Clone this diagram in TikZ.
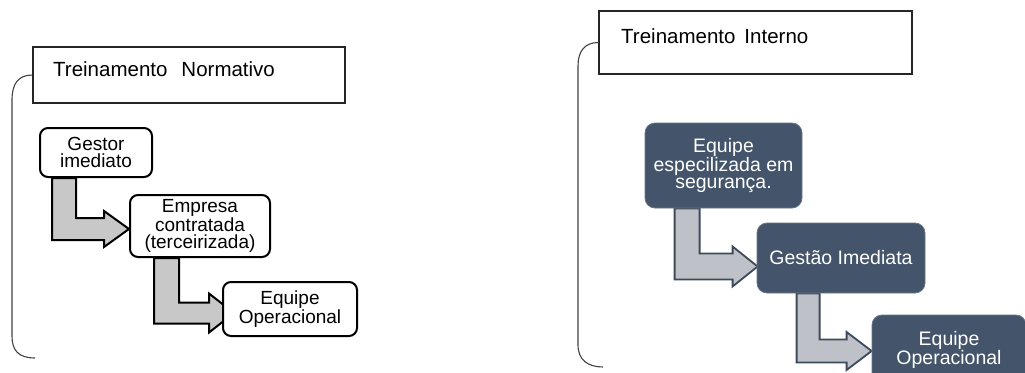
\documentclass[tikz,border=0pt]{standalone}
\usepackage{fontspec}
\setmainfont{Liberation Sans}
\usetikzlibrary{calc}
\pgfdeclarelayer{bg}
\pgfsetlayers{bg,main}
\definecolor{slate}{HTML}{44546A}
\definecolor{slateedge}{HTML}{3C4A5C}
\definecolor{arrowgrayR}{HTML}{BEC2C8}
\definecolor{arrowgrayL}{HTML}{C8C8C8}
\definecolor{bracketcol}{HTML}{404040}
\tikzset{
  hdrbox/.style={draw=black!85, line width=1.3pt, fill=white, inner sep=0pt},
  hdrtext/.style={inner sep=0pt, font=\fontsize{20.5}{18}\selectfont},
  bracket/.style={draw=bracketcol, line width=1.1pt},
  lbox/.style={draw=black, line width=2pt, rounded corners=8pt, fill=white, align=center, inner sep=0pt, font=\fontsize{19}{17.5}\selectfont},
  rbox/.style={draw=slate!80!white, line width=0.8pt, rounded corners=10pt, fill=slate, text=white, align=center, inner sep=0pt, font=\fontsize{19.5}{17.5}\selectfont},
  larrow/.style={draw=black, line width=2pt, fill=arrowgrayL, line join=miter},
  rarrow/.style={draw=slateedge, line width=1.8pt, fill=arrowgrayR, line join=miter}
}
\newcommand\bentarrow[9]{%
  \draw[#1] let \p1=($(#2.south west)+(#4,0)$), \p2=($(#3.west)+(#6,#7)$) in
    (\x1,\y1) -- (\x1+#5pt,\y1) -- (\x1+#5pt,\y2+#8pt) -- (\x2-25pt,\y2+#8pt)
    -- (\x2-25pt,\y2+#9pt) -- (\x2,\y2) -- (\x2-25pt,\y2-#9pt) -- (\x2-25pt,\y2-#8pt)
    -- (\x1,\y2-#8pt) -- cycle;}
\begin{document}
\begin{tikzpicture}[x=1pt,y=-1pt]
\useasboundingbox (0,0) rectangle (1025,372);
\clip (0,0) rectangle (1025,372);
% ---------- left panel ----------
\node[hdrbox, minimum width=312pt, minimum height=56pt] (hdrL) at (189,75) {};
\node[hdrtext, anchor=base west] (hdrLt) at (53,76.5) {Treinamento\hspace{14pt}Normativo};
\coordinate (brL) at (35,358);
\draw[bracket] (hdrL.west) .. controls (18,75) and (12,84) .. (12,100) -- (12,336) .. controls (12,350) and (18,358) .. (brL);

\node[lbox, minimum width=112pt, minimum height=49pt] (gestor) at (96,152.5) {Gestor\\imediato};
\node[lbox, minimum width=140pt, minimum height=62pt] (empresa) at (200,226) {Empresa\\contratada\\(terceirizada)};
\node[lbox, minimum width=134pt, minimum height=54pt] (equipeL) at (290,309) {Equipe\\Operacional};

% ---------- right panel ----------
\node[hdrbox, minimum width=313pt, minimum height=63pt] (hdrR) at (755.5,42.5) {};
\node[hdrtext, anchor=base west] (hdrRt) at (621,43.5) {Treinamento\hspace{9pt}Interno};
\coordinate (brR) at (603,367);
\draw[bracket] (hdrR.west) .. controls (584,42.5) and (578,52) .. (578,66) -- (578,345) .. controls (578,360) and (588,367) .. (brR);

\node[rbox, minimum width=157pt, minimum height=85pt] (esp) at (723.5,165.5) {Equipe\\especilizada em\\segurança.};
\node[rbox, minimum width=168pt, minimum height=70pt] (gest) at (841,258) {Gestão Imediata};
\node[rbox, minimum width=154pt, minimum height=70pt] (equipeR) at (949,350) {Equipe\\Operacional};

% ---------- bent block arrows (behind boxes) ----------
\begin{pgfonlayer}{bg}
\bentarrow{larrow}{gestor}{empresa}{13}{24}{0}{3}{11}{18}
\bentarrow{larrow}{empresa}{equipeL}{25}{25}{12}{4}{10.5}{19.5}
\bentarrow{rarrow}{esp}{gest}{30}{25}{1}{8.5}{13}{20}
\bentarrow{rarrow}{gest}{equipeR}{40}{23}{0}{1}{11.5}{19}
\end{pgfonlayer}
\end{tikzpicture}
\end{document}
